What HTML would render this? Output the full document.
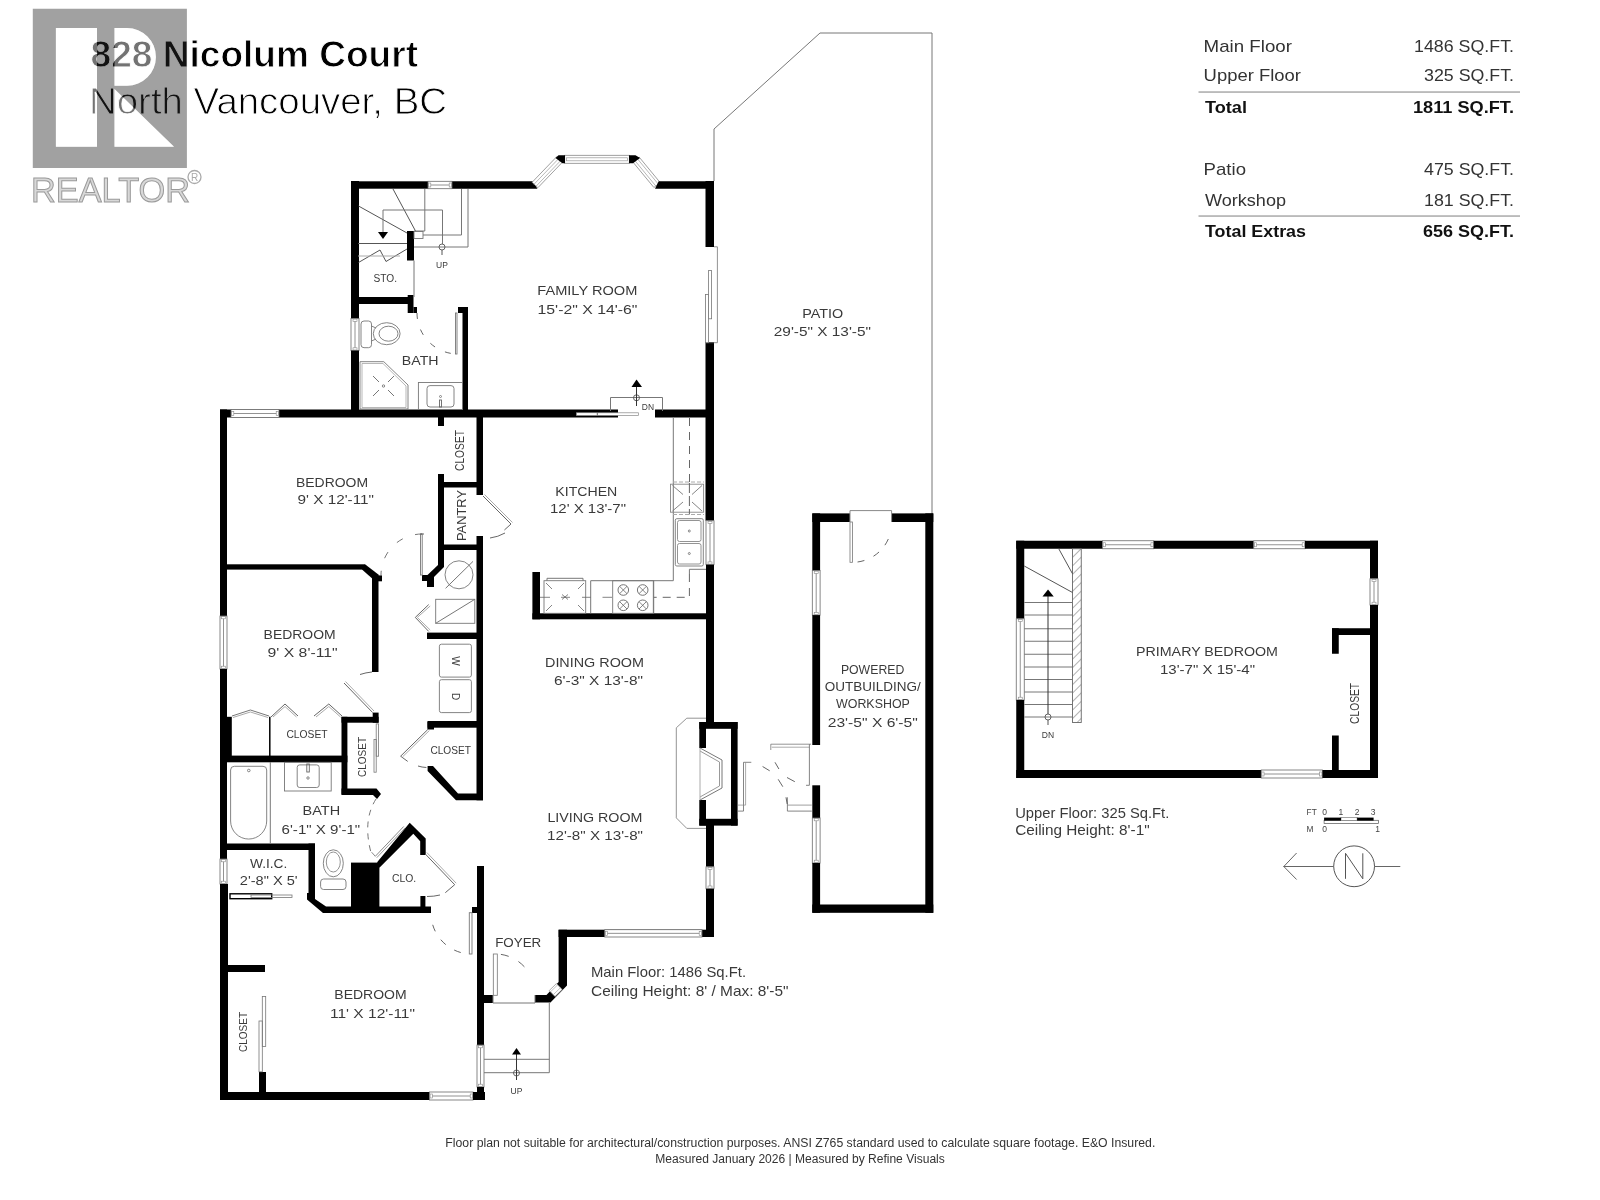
<!DOCTYPE html>
<html><head><meta charset="utf-8"><title>828 Nicolum Court Floor Plan</title>
<style>
html,body{margin:0;padding:0;background:#fff;}
body{width:1600px;height:1200px;overflow:hidden;position:relative;}
svg{position:absolute;left:0;top:0;will-change:transform;}
text{font-family:"Liberation Sans",sans-serif;}
</style></head><body>
<svg width="1600" height="1200" viewBox="0 0 1600 1200">
<rect width="1600" height="1200" fill="#fff"/>
<polyline points="714,181 714,129 820,33 932,33 932,514" fill="none" stroke="#777" stroke-width="1"/>
<rect x="351" y="181.3" width="77" height="7.4" fill="#000"/>
<polygon points="452,181.3 532.7,181.3 537.5,188.7 452,188.7" fill="#000"/>
<rect x="428" y="181.3" width="24" height="7.4" fill="#fff" stroke="#6a6a6a" stroke-width="0.8"/>
<line x1="430.8" y1="185.0" x2="449.2" y2="185.0" stroke="#777" stroke-width="0.8"/>
<rect x="428.6" y="183.0" width="2.2" height="4" fill="none" stroke="#888" stroke-width="0.6"/>
<rect x="449.2" y="183.0" width="2.2" height="4" fill="none" stroke="#888" stroke-width="0.6"/>
<rect x="564.7" y="155.3" width="64.6" height="8" fill="#fff" stroke="#888" stroke-width="0.8"/>
<rect x="566.5" y="157.8" width="61" height="3" fill="none" stroke="#999" stroke-width="0.7"/>
<polygon points="532.1,182.3 556.6,156.8 562.4,162.2 537.9,187.7" fill="#fff" stroke="#888" stroke-width="0.8"/>
<polyline points="534,184.3 558,159.3" fill="none" stroke="#999" stroke-width="0.7"/>
<polyline points="536.3,186 560.3,161" fill="none" stroke="#999" stroke-width="0.7"/>
<polygon points="639.1,157 660.1,182.5 653.9,187.5 632.9,162" fill="#fff" stroke="#888" stroke-width="0.8"/>
<polyline points="637.2,158.5 658.2,184" fill="none" stroke="#999" stroke-width="0.7"/>
<polyline points="634.8,160.5 655.8,186" fill="none" stroke="#999" stroke-width="0.7"/>
<polygon points="555.5,158 558.5,155.3 565,155.3 565,163.3 562.4,163.3" fill="#000"/>
<polygon points="629,155.3 635.5,155.3 640,158 633,163.3 629,163.3" fill="#000"/>
<polygon points="658.7,181.3 714,181.3 714,188.7 655,188.7" fill="#000"/>
<rect x="351" y="181" width="8" height="137.5" fill="#000"/>
<rect x="351" y="318.5" width="8" height="32.1" fill="#fff" stroke="#6a6a6a" stroke-width="0.8"/>
<line x1="355.0" y1="321.3" x2="355.0" y2="347.8" stroke="#777" stroke-width="0.8"/>
<rect x="353.0" y="319.1" width="4" height="2.2" fill="none" stroke="#888" stroke-width="0.6"/>
<rect x="353.0" y="347.8" width="4" height="2.2" fill="none" stroke="#888" stroke-width="0.6"/>
<rect x="351" y="350.6" width="8" height="66.4" fill="#000"/>
<rect x="705.5" y="181" width="8.5" height="66" fill="#000"/>
<rect x="705.5" y="342" width="8.5" height="75" fill="#000"/>
<polyline points="714,246.8 717.4,246.8 717.4,342.7 705.5,342.7" fill="none" stroke="#777" stroke-width="0.8"/>
<rect x="708.4" y="270.6" width="3.2" height="48.2" fill="#fff" stroke="#777" stroke-width="0.8"/>
<rect x="705.5" y="294.5" width="2.9" height="48.2" fill="#fff" stroke="#777" stroke-width="0.8"/>
<rect x="351" y="297" width="57" height="7" fill="#000"/>
<rect x="407.7" y="295" width="5.8" height="18" fill="#000"/>
<rect x="413.5" y="307" width="3.5" height="6" fill="#000"/>
<rect x="407" y="231" width="7" height="29.5" fill="#000"/>
<rect x="462.5" y="307" width="5.5" height="110" fill="#000"/>
<rect x="458" y="307" width="10" height="6" fill="#000"/>
<rect x="220" y="409.5" width="398" height="8.0" fill="#000"/>
<rect x="576.5" y="412.8" width="20.5" height="2.6" fill="#fff" stroke="#999" stroke-width="0.6"/>
<rect x="597.5" y="412.8" width="41" height="2.6" fill="#fff" stroke="#888" stroke-width="0.7"/>
<rect x="655" y="409.5" width="59" height="8.0" fill="#000"/>
<rect x="231" y="409.5" width="48" height="8.0" fill="#fff" stroke="#6a6a6a" stroke-width="0.8"/>
<line x1="233.8" y1="413.5" x2="276.2" y2="413.5" stroke="#777" stroke-width="0.8"/>
<rect x="231.6" y="411.5" width="2.2" height="4" fill="none" stroke="#888" stroke-width="0.6"/>
<rect x="276.2" y="411.5" width="2.2" height="4" fill="none" stroke="#888" stroke-width="0.6"/>
<rect x="220" y="409.5" width="7" height="206.5" fill="#000"/>
<rect x="220" y="616" width="7" height="53" fill="#fff" stroke="#6a6a6a" stroke-width="0.8"/>
<line x1="223.5" y1="618.8" x2="223.5" y2="666.2" stroke="#777" stroke-width="0.8"/>
<rect x="221.5" y="616.6" width="4" height="2.2" fill="none" stroke="#888" stroke-width="0.6"/>
<rect x="221.5" y="666.2" width="4" height="2.2" fill="none" stroke="#888" stroke-width="0.6"/>
<rect x="220" y="669" width="7" height="190" fill="#000"/>
<rect x="220" y="859" width="7" height="25" fill="#fff" stroke="#6a6a6a" stroke-width="0.8"/>
<line x1="223.5" y1="861.8" x2="223.5" y2="881.2" stroke="#777" stroke-width="0.8"/>
<rect x="221.5" y="859.6" width="4" height="2.2" fill="none" stroke="#888" stroke-width="0.6"/>
<rect x="221.5" y="881.2" width="4" height="2.2" fill="none" stroke="#888" stroke-width="0.6"/>
<rect x="220" y="884" width="8" height="216" fill="#000"/>
<rect x="220" y="1092" width="209.5" height="8" fill="#000"/>
<rect x="429.5" y="1092" width="43.5" height="8" fill="#fff" stroke="#6a6a6a" stroke-width="0.8"/>
<line x1="432.3" y1="1096.0" x2="470.2" y2="1096.0" stroke="#777" stroke-width="0.8"/>
<rect x="430.1" y="1094.0" width="2.2" height="4" fill="none" stroke="#888" stroke-width="0.6"/>
<rect x="470.2" y="1094.0" width="2.2" height="4" fill="none" stroke="#888" stroke-width="0.6"/>
<rect x="473" y="1092" width="12" height="8" fill="#000"/>
<rect x="438" y="417" width="6" height="9" fill="#000"/>
<rect x="438" y="474" width="6" height="91" fill="#000"/>
<polygon points="438,565 444,565 444,567 433,578 427.5,575" fill="#000"/>
<rect x="422" y="575" width="12" height="6" fill="#000"/>
<rect x="427" y="581" width="7" height="6" fill="#000"/>
<rect x="444" y="482" width="33" height="5.5" fill="#000"/>
<rect x="444" y="544.5" width="33" height="5.5" fill="#000"/>
<rect x="476.5" y="417" width="6.5" height="78" fill="#000"/>
<rect x="476.5" y="536" width="6.5" height="264.3" fill="#000"/>
<rect x="220" y="564.3" width="145" height="5.3" fill="#000"/>
<polygon points="365,564.3 379,575 375,581 362,569.6" fill="#000"/>
<rect x="372" y="575.4" width="10" height="5.9" fill="#000"/>
<rect x="372" y="576" width="6.5" height="96" fill="#000"/>
<rect x="341.5" y="716.8" width="37.1" height="5.9" fill="#000"/>
<rect x="372.7" y="712.6" width="5.9" height="10.1" fill="#000"/>
<rect x="226.7" y="716.8" width="5.1" height="39.6" fill="#000"/>
<rect x="220" y="755.6" width="127.4" height="6.7" fill="#000"/>
<rect x="341.5" y="716.8" width="5.9" height="77.6" fill="#000"/>
<polygon points="341.5,788.5 376.5,788.5 381,794 377,799 373,795 341.5,795" fill="#000"/>
<rect x="427" y="632.6" width="50" height="6.4" fill="#000"/>
<rect x="427.6" y="721" width="55.4" height="6.7" fill="#000"/>
<polygon points="427.6,766 433,766 458,793.6 483,793.6 483,800.3 456,800.3 427.6,771" fill="#000"/>
<rect x="220" y="843.5" width="95" height="6.5" fill="#000"/>
<rect x="308.5" y="843.5" width="6.5" height="52.5" fill="#000"/>
<polygon points="307,893 315,893 315,899 326,906.5 431,906.5 431,913 323,913 307,899.4" fill="#000"/>
<rect x="351" y="862.6" width="28.4" height="50.4" fill="#000"/>
<polygon points="377.1,862.2 409.7,822.8 425.7,838.4 425.7,854.9 420.2,854.9 420.2,841.2 413.3,833.8 379.4,867.7" fill="#000"/>
<rect x="420.4" y="896" width="5.0" height="17" fill="#000"/>
<rect x="220" y="965" width="45" height="7" fill="#000"/>
<rect x="259" y="1072" width="7" height="20" fill="#000"/>
<rect x="477" y="866" width="7" height="179" fill="#000"/>
<rect x="477" y="1045" width="7" height="42" fill="#fff" stroke="#6a6a6a" stroke-width="0.8"/>
<line x1="480.5" y1="1047.8" x2="480.5" y2="1084.2" stroke="#777" stroke-width="0.8"/>
<rect x="478.5" y="1045.6" width="4" height="2.2" fill="none" stroke="#888" stroke-width="0.6"/>
<rect x="478.5" y="1084.2" width="4" height="2.2" fill="none" stroke="#888" stroke-width="0.6"/>
<rect x="477" y="1087" width="7" height="13" fill="#000"/>
<rect x="472" y="907" width="5" height="6" fill="#000"/>
<rect x="484" y="995" width="9" height="8" fill="#000"/>
<polygon points="558.6,929.7 567,929.7 567,985.4 550.5,1002.5 535,1002.5 535,995 546.5,995 558.6,982" fill="#000"/>
<polygon points="549.2,990.6 556.4,983.6 562.2,989.6 555,996.6" fill="#fff" stroke="#888" stroke-width="0.7"/>
<polyline points="551,991.3 557.5,985" fill="none" stroke="#999" stroke-width="0.6"/>
<polyline points="553.8,994.2 560.3,987.9" fill="none" stroke="#999" stroke-width="0.6"/>
<rect x="558.6" y="929.7" width="155.4" height="7.3" fill="#000"/>
<rect x="604.7" y="929.7" width="97.3" height="7.3" fill="#fff" stroke="#6a6a6a" stroke-width="0.8"/>
<line x1="607.5" y1="933.35" x2="699.2" y2="933.35" stroke="#777" stroke-width="0.8"/>
<rect x="605.3000000000001" y="931.35" width="2.2" height="4" fill="none" stroke="#888" stroke-width="0.6"/>
<rect x="699.2" y="931.35" width="2.2" height="4" fill="none" stroke="#888" stroke-width="0.6"/>
<rect x="532.4" y="572" width="7.6" height="47.3" fill="#000"/>
<rect x="532.4" y="613.3" width="181.6" height="6.0" fill="#000"/>
<rect x="705.5" y="417" width="8.5" height="103.7" fill="#000"/>
<rect x="706" y="520.7" width="8" height="44.0" fill="#fff" stroke="#6a6a6a" stroke-width="0.8"/>
<line x1="710.0" y1="523.5" x2="710.0" y2="561.9000000000001" stroke="#777" stroke-width="0.8"/>
<rect x="708.0" y="521.3000000000001" width="4" height="2.2" fill="none" stroke="#888" stroke-width="0.6"/>
<rect x="708.0" y="561.9000000000001" width="4" height="2.2" fill="none" stroke="#888" stroke-width="0.6"/>
<rect x="706" y="564.7" width="8" height="157.3" fill="#000"/>
<rect x="706" y="825" width="8" height="41.8" fill="#000"/>
<rect x="706" y="866.8" width="8" height="22.0" fill="#fff" stroke="#6a6a6a" stroke-width="0.8"/>
<line x1="710.0" y1="869.5999999999999" x2="710.0" y2="886.0" stroke="#777" stroke-width="0.8"/>
<rect x="708.0" y="867.4" width="4" height="2.2" fill="none" stroke="#888" stroke-width="0.6"/>
<rect x="708.0" y="886.0" width="4" height="2.2" fill="none" stroke="#888" stroke-width="0.6"/>
<rect x="706" y="888.8" width="8" height="48.2" fill="#000"/>
<rect x="699.3" y="722" width="38.3" height="6.8" fill="#000"/>
<rect x="699.3" y="818.8" width="38.3" height="6.8" fill="#000"/>
<rect x="731" y="722" width="6.6" height="103.6" fill="#000"/>
<rect x="699.3" y="722" width="6.7" height="26" fill="#000"/>
<rect x="699.3" y="800" width="6.7" height="25.6" fill="#000"/>
<rect x="812.3" y="513.4" width="37.7" height="8.6" fill="#000"/>
<rect x="891.6" y="513.4" width="41.7" height="8.6" fill="#000"/>
<rect x="925.3" y="513.4" width="8.0" height="399.4" fill="#000"/>
<rect x="812.3" y="904.5" width="121.0" height="8.3" fill="#000"/>
<rect x="812.3" y="513.4" width="7.8" height="57.2" fill="#000"/>
<rect x="812.3" y="570.6" width="7.8" height="44.5" fill="#fff" stroke="#6a6a6a" stroke-width="0.8"/>
<line x1="816.2" y1="573.4" x2="816.2" y2="612.3000000000001" stroke="#777" stroke-width="0.8"/>
<rect x="814.2" y="571.2" width="4" height="2.2" fill="none" stroke="#888" stroke-width="0.6"/>
<rect x="814.2" y="612.3000000000001" width="4" height="2.2" fill="none" stroke="#888" stroke-width="0.6"/>
<rect x="812.3" y="615.1" width="7.8" height="129.9" fill="#000"/>
<rect x="812.3" y="785.3" width="7.8" height="32.7" fill="#000"/>
<rect x="812.3" y="818" width="7.8" height="45" fill="#fff" stroke="#6a6a6a" stroke-width="0.8"/>
<line x1="816.2" y1="820.8" x2="816.2" y2="860.2" stroke="#777" stroke-width="0.8"/>
<rect x="814.2" y="818.6" width="4" height="2.2" fill="none" stroke="#888" stroke-width="0.6"/>
<rect x="814.2" y="860.2" width="4" height="2.2" fill="none" stroke="#888" stroke-width="0.6"/>
<rect x="812.3" y="863" width="7.8" height="49.8" fill="#000"/>
<rect x="1016.25" y="540.75" width="86.25" height="8.0" fill="#000"/>
<rect x="1102.5" y="540.75" width="51.25" height="8.0" fill="#fff" stroke="#6a6a6a" stroke-width="0.8"/>
<line x1="1105.3" y1="544.75" x2="1150.95" y2="544.75" stroke="#777" stroke-width="0.8"/>
<rect x="1103.1" y="542.75" width="2.2" height="4" fill="none" stroke="#888" stroke-width="0.6"/>
<rect x="1150.95" y="542.75" width="2.2" height="4" fill="none" stroke="#888" stroke-width="0.6"/>
<rect x="1153.75" y="540.75" width="100.0" height="8.0" fill="#000"/>
<rect x="1253.75" y="540.75" width="51.25" height="8.0" fill="#fff" stroke="#6a6a6a" stroke-width="0.8"/>
<line x1="1256.55" y1="544.75" x2="1302.2" y2="544.75" stroke="#777" stroke-width="0.8"/>
<rect x="1254.35" y="542.75" width="2.2" height="4" fill="none" stroke="#888" stroke-width="0.6"/>
<rect x="1302.2" y="542.75" width="2.2" height="4" fill="none" stroke="#888" stroke-width="0.6"/>
<rect x="1305" y="540.75" width="73" height="8.0" fill="#000"/>
<rect x="1016.25" y="540.75" width="8.0" height="78.0" fill="#000"/>
<rect x="1016.25" y="618.75" width="8.0" height="81.25" fill="#fff" stroke="#6a6a6a" stroke-width="0.8"/>
<line x1="1020.25" y1="621.55" x2="1020.25" y2="697.2" stroke="#777" stroke-width="0.8"/>
<rect x="1018.25" y="619.35" width="4" height="2.2" fill="none" stroke="#888" stroke-width="0.6"/>
<rect x="1018.25" y="697.2" width="4" height="2.2" fill="none" stroke="#888" stroke-width="0.6"/>
<rect x="1016.25" y="700" width="8.0" height="78" fill="#000"/>
<rect x="1016.25" y="770" width="245.0" height="8" fill="#000"/>
<rect x="1261.25" y="770" width="61.25" height="8" fill="#fff" stroke="#6a6a6a" stroke-width="0.8"/>
<line x1="1264.05" y1="774.0" x2="1319.7" y2="774.0" stroke="#777" stroke-width="0.8"/>
<rect x="1261.85" y="772.0" width="2.2" height="4" fill="none" stroke="#888" stroke-width="0.6"/>
<rect x="1319.7" y="772.0" width="2.2" height="4" fill="none" stroke="#888" stroke-width="0.6"/>
<rect x="1322.5" y="770" width="55.5" height="8" fill="#000"/>
<rect x="1370" y="540.75" width="8" height="38.0" fill="#000"/>
<rect x="1370" y="578.75" width="8" height="26.25" fill="#fff" stroke="#6a6a6a" stroke-width="0.8"/>
<line x1="1374.0" y1="581.55" x2="1374.0" y2="602.2" stroke="#777" stroke-width="0.8"/>
<rect x="1372.0" y="579.35" width="4" height="2.2" fill="none" stroke="#888" stroke-width="0.6"/>
<rect x="1372.0" y="602.2" width="4" height="2.2" fill="none" stroke="#888" stroke-width="0.6"/>
<rect x="1370" y="605" width="8" height="173" fill="#000"/>
<rect x="1332" y="628.25" width="38" height="6.75" fill="#000"/>
<rect x="1332" y="628.25" width="6.75" height="25.5" fill="#000"/>
<rect x="1332" y="735.5" width="6.75" height="34.5" fill="#000"/>
<text x="537.3" y="295.3" font-size="13" text-anchor="start" fill="#3a3a3a" font-weight="normal" textLength="100.0" lengthAdjust="spacingAndGlyphs">FAMILY ROOM</text>
<text x="537.5" y="313.7" font-size="13" text-anchor="start" fill="#3a3a3a" font-weight="normal" textLength="100.0" lengthAdjust="spacingAndGlyphs">15'-2&quot; X 14'-6&quot;</text>
<text x="373.5" y="282" font-size="10" text-anchor="start" fill="#3a3a3a" font-weight="normal" textLength="23.5" lengthAdjust="spacingAndGlyphs">STO.</text>
<text x="442" y="267.5" font-size="8.5" text-anchor="middle" fill="#3a3a3a" font-weight="normal">UP</text>
<text x="401.8" y="364.6" font-size="12.5" text-anchor="start" fill="#3a3a3a" font-weight="normal" textLength="36.8" lengthAdjust="spacingAndGlyphs">BATH</text>
<text x="641.8" y="409.5" font-size="8.5" text-anchor="start" fill="#3a3a3a" font-weight="normal" textLength="12.2" lengthAdjust="spacingAndGlyphs">DN</text>
<text x="802.3" y="317.6" font-size="13" text-anchor="start" fill="#3a3a3a" font-weight="normal" textLength="41.0" lengthAdjust="spacingAndGlyphs">PATIO</text>
<text x="773.8" y="335.5" font-size="13" text-anchor="start" fill="#3a3a3a" font-weight="normal" textLength="97.2" lengthAdjust="spacingAndGlyphs">29'-5&quot; X 13'-5&quot;</text>
<text x="296" y="487" font-size="13.5" text-anchor="start" fill="#3a3a3a" font-weight="normal" textLength="72" lengthAdjust="spacingAndGlyphs">BEDROOM</text>
<text x="297.6" y="504.4" font-size="13.5" text-anchor="start" fill="#3a3a3a" font-weight="normal" textLength="76.4" lengthAdjust="spacingAndGlyphs">9' X 12'-11&quot;</text>
<text x="464" y="450.5" font-size="12" text-anchor="middle" fill="#3a3a3a" font-weight="normal" textLength="41" lengthAdjust="spacingAndGlyphs" transform="rotate(-90 464 450.5)">CLOSET</text>
<text x="466" y="515.5" font-size="12.5" text-anchor="middle" fill="#3a3a3a" font-weight="normal" textLength="51" lengthAdjust="spacingAndGlyphs" transform="rotate(-90 466 515.5)">PANTRY</text>
<text x="555.3" y="496" font-size="13.5" text-anchor="start" fill="#3a3a3a" font-weight="normal" textLength="62.0" lengthAdjust="spacingAndGlyphs">KITCHEN</text>
<text x="550" y="513.3" font-size="13.5" text-anchor="start" fill="#3a3a3a" font-weight="normal" textLength="76" lengthAdjust="spacingAndGlyphs">12' X 13'-7&quot;</text>
<text x="263.6" y="639.4" font-size="13.5" text-anchor="start" fill="#3a3a3a" font-weight="normal" textLength="72.0" lengthAdjust="spacingAndGlyphs">BEDROOM</text>
<text x="267.6" y="657.4" font-size="13.5" text-anchor="start" fill="#3a3a3a" font-weight="normal" textLength="70.0" lengthAdjust="spacingAndGlyphs">9' X 8'-11&quot;</text>
<text x="286.4" y="738" font-size="11" text-anchor="start" fill="#3a3a3a" font-weight="normal" textLength="41.2" lengthAdjust="spacingAndGlyphs">CLOSET</text>
<text x="366" y="757" font-size="11.5" text-anchor="middle" fill="#3a3a3a" font-weight="normal" textLength="40" lengthAdjust="spacingAndGlyphs" transform="rotate(-90 366 757)">CLOSET</text>
<text x="430.4" y="754.4" font-size="11" text-anchor="start" fill="#3a3a3a" font-weight="normal" textLength="40.6" lengthAdjust="spacingAndGlyphs">CLOSET</text>
<text x="545" y="667.4" font-size="13.5" text-anchor="start" fill="#3a3a3a" font-weight="normal" textLength="99" lengthAdjust="spacingAndGlyphs">DINING ROOM</text>
<text x="554" y="685" font-size="13.5" text-anchor="start" fill="#3a3a3a" font-weight="normal" textLength="89" lengthAdjust="spacingAndGlyphs">6'-3&quot; X 13'-8&quot;</text>
<text x="547.4" y="822.4" font-size="13.5" text-anchor="start" fill="#3a3a3a" font-weight="normal" textLength="95.0" lengthAdjust="spacingAndGlyphs">LIVING ROOM</text>
<text x="547" y="840" font-size="13.5" text-anchor="start" fill="#3a3a3a" font-weight="normal" textLength="96" lengthAdjust="spacingAndGlyphs">12'-8&quot; X 13'-8&quot;</text>
<text x="302.6" y="815.4" font-size="13" text-anchor="start" fill="#3a3a3a" font-weight="normal" textLength="37.5" lengthAdjust="spacingAndGlyphs">BATH</text>
<text x="281.6" y="833.6" font-size="13" text-anchor="start" fill="#3a3a3a" font-weight="normal" textLength="78.6" lengthAdjust="spacingAndGlyphs">6'-1&quot; X 9'-1&quot;</text>
<text x="250" y="867.6" font-size="13" text-anchor="start" fill="#3a3a3a" font-weight="normal" textLength="37.3" lengthAdjust="spacingAndGlyphs">W.I.C.</text>
<text x="239.8" y="885.3" font-size="13" text-anchor="start" fill="#3a3a3a" font-weight="normal" textLength="57.8" lengthAdjust="spacingAndGlyphs">2'-8&quot; X 5'</text>
<text x="392" y="882.4" font-size="10" text-anchor="start" fill="#3a3a3a" font-weight="normal" textLength="24.2" lengthAdjust="spacingAndGlyphs">CLO.</text>
<text x="334.3" y="999.3" font-size="13.5" text-anchor="start" fill="#3a3a3a" font-weight="normal" textLength="72.3" lengthAdjust="spacingAndGlyphs">BEDROOM</text>
<text x="330" y="1017.8" font-size="13.5" text-anchor="start" fill="#3a3a3a" font-weight="normal" textLength="85" lengthAdjust="spacingAndGlyphs">11' X 12'-11&quot;</text>
<text x="247" y="1032" font-size="11.5" text-anchor="middle" fill="#3a3a3a" font-weight="normal" textLength="40" lengthAdjust="spacingAndGlyphs" transform="rotate(-90 247 1032)">CLOSET</text>
<text x="495.2" y="946.8" font-size="13" text-anchor="start" fill="#3a3a3a" font-weight="normal" textLength="46.1" lengthAdjust="spacingAndGlyphs">FOYER</text>
<text x="516.5" y="1094" font-size="8.5" text-anchor="middle" fill="#3a3a3a" font-weight="normal">UP</text>
<text x="840.9" y="674.1" font-size="13" text-anchor="start" fill="#3a3a3a" font-weight="normal" textLength="63.4" lengthAdjust="spacingAndGlyphs">POWERED</text>
<text x="824.75" y="691.4" font-size="13" text-anchor="start" fill="#3a3a3a" font-weight="normal" textLength="96.0" lengthAdjust="spacingAndGlyphs">OUTBUILDING/</text>
<text x="836" y="707.5" font-size="13" text-anchor="start" fill="#3a3a3a" font-weight="normal" textLength="73.9" lengthAdjust="spacingAndGlyphs">WORKSHOP</text>
<text x="827.75" y="727.4" font-size="13" text-anchor="start" fill="#3a3a3a" font-weight="normal" textLength="90.0" lengthAdjust="spacingAndGlyphs">23'-5&quot; X 6'-5&quot;</text>
<text x="1136" y="655.5" font-size="13.7" text-anchor="start" fill="#3a3a3a" font-weight="normal" textLength="142" lengthAdjust="spacingAndGlyphs">PRIMARY BEDROOM</text>
<text x="1160" y="673.75" font-size="13.7" text-anchor="start" fill="#3a3a3a" font-weight="normal" textLength="95" lengthAdjust="spacingAndGlyphs">13'-7&quot; X 15'-4&quot;</text>
<text x="1359.5" y="703.4" font-size="12" text-anchor="middle" fill="#3a3a3a" font-weight="normal" textLength="41" lengthAdjust="spacingAndGlyphs" transform="rotate(-90 1359.5 703.4)">CLOSET</text>
<text x="1048" y="737.5" font-size="8.5" text-anchor="middle" fill="#3a3a3a" font-weight="normal">DN</text>
<text x="591" y="976.8" font-size="14.5" text-anchor="start" fill="#3a3a3a" font-weight="normal" textLength="155" lengthAdjust="spacingAndGlyphs">Main Floor: 1486 Sq.Ft.</text>
<text x="591" y="996" font-size="14.5" text-anchor="start" fill="#3a3a3a" font-weight="normal" textLength="197.5" lengthAdjust="spacingAndGlyphs">Ceiling Height: 8' / Max: 8'-5&quot;</text>
<text x="1015.2" y="817.6" font-size="14.5" text-anchor="start" fill="#3a3a3a" font-weight="normal" textLength="154.1" lengthAdjust="spacingAndGlyphs">Upper Floor: 325 Sq.Ft.</text>
<text x="1015.2" y="835" font-size="14.5" text-anchor="start" fill="#3a3a3a" font-weight="normal" textLength="134.4" lengthAdjust="spacingAndGlyphs">Ceiling Height: 8'-1&quot;</text>
<text x="445.3" y="1146.6" font-size="12" text-anchor="start" fill="#333" font-weight="normal" textLength="710.0" lengthAdjust="spacingAndGlyphs">Floor plan not suitable for architectural/construction purposes. ANSI Z765 standard used to calculate square footage. E&amp;O Insured.</text>
<text x="655.3" y="1162.8" font-size="12" text-anchor="start" fill="#333" font-weight="normal" textLength="289.5" lengthAdjust="spacingAndGlyphs">Measured January 2026 | Measured by Refine Visuals</text>
<text x="1203.6" y="51.5" font-size="17" text-anchor="start" fill="#333" font-weight="normal" textLength="88.4" lengthAdjust="spacingAndGlyphs">Main Floor</text>
<text x="1514" y="51.5" font-size="17" text-anchor="end" fill="#333" font-weight="normal" textLength="100" lengthAdjust="spacingAndGlyphs">1486 SQ.FT.</text>
<text x="1203.6" y="81" font-size="17" text-anchor="start" fill="#333" font-weight="normal" textLength="97.4" lengthAdjust="spacingAndGlyphs">Upper Floor</text>
<text x="1514" y="81" font-size="17" text-anchor="end" fill="#333" font-weight="normal" textLength="90" lengthAdjust="spacingAndGlyphs">325 SQ.FT.</text>
<rect x="1198.5" y="91.3" width="321.5" height="1.5" fill="#aaa"/>
<text x="1205" y="112.7" font-size="17" text-anchor="start" fill="#111" font-weight="bold" textLength="42" lengthAdjust="spacingAndGlyphs">Total</text>
<text x="1514" y="112.7" font-size="17" text-anchor="end" fill="#111" font-weight="bold" textLength="101" lengthAdjust="spacingAndGlyphs">1811 SQ.FT.</text>
<text x="1203.6" y="175" font-size="17" text-anchor="start" fill="#333" font-weight="normal" textLength="42.4" lengthAdjust="spacingAndGlyphs">Patio</text>
<text x="1514" y="175" font-size="17" text-anchor="end" fill="#333" font-weight="normal" textLength="90" lengthAdjust="spacingAndGlyphs">475 SQ.FT.</text>
<text x="1205" y="206" font-size="17" text-anchor="start" fill="#333" font-weight="normal" textLength="81" lengthAdjust="spacingAndGlyphs">Workshop</text>
<text x="1514" y="206" font-size="17" text-anchor="end" fill="#333" font-weight="normal" textLength="90" lengthAdjust="spacingAndGlyphs">181 SQ.FT.</text>
<rect x="1198.5" y="215.3" width="321.5" height="1.5" fill="#aaa"/>
<text x="1205" y="237" font-size="17" text-anchor="start" fill="#111" font-weight="bold" textLength="101" lengthAdjust="spacingAndGlyphs">Total Extras</text>
<text x="1514" y="237" font-size="17" text-anchor="end" fill="#111" font-weight="bold" textLength="91" lengthAdjust="spacingAndGlyphs">656 SQ.FT.</text>
<text x="90.6" y="67.2" font-size="37" text-anchor="start" fill="#000" font-weight="bold" textLength="327.4" lengthAdjust="spacingAndGlyphs" stroke="#fff" stroke-width="0.9">828 Nicolum Court</text>
<text x="89" y="114" font-size="36.5" text-anchor="start" fill="#000" font-weight="normal" textLength="358" lengthAdjust="spacingAndGlyphs" stroke="#fff" stroke-width="0.9">North Vancouver, BC</text>
<circle cx="1354.1" cy="866.3" r="20.4" fill="none" stroke="#555" stroke-width="1"/>
<polyline points="1283.5,866.5 1333.7,866.5" fill="none" stroke="#666" stroke-width="1"/>
<polyline points="1374.5,866.5 1400.3,866.5" fill="none" stroke="#666" stroke-width="1"/>
<polyline points="1296.6,853 1283.8,866.5 1296.6,879.5" fill="none" stroke="#666" stroke-width="1"/>
<polyline points="1345.5,878.8 1345.5,853.3 1362.8,878.8 1362.8,853.3" fill="none" stroke="#555" stroke-width="1"/>
<text x="1306.6" y="814.8" font-size="8.3" text-anchor="start" fill="#444" font-weight="normal">FT</text>
<text x="1306.6" y="831.5" font-size="8.3" text-anchor="start" fill="#444" font-weight="normal">M</text>
<text x="1324.5" y="814.8" font-size="8.5" text-anchor="middle" fill="#444" font-weight="normal">0</text>
<text x="1340.8" y="814.8" font-size="8.5" text-anchor="middle" fill="#444" font-weight="normal">1</text>
<text x="1357" y="814.8" font-size="8.5" text-anchor="middle" fill="#444" font-weight="normal">2</text>
<text x="1373.2" y="814.8" font-size="8.5" text-anchor="middle" fill="#444" font-weight="normal">3</text>
<text x="1324.5" y="831.5" font-size="8.5" text-anchor="middle" fill="#444" font-weight="normal">0</text>
<text x="1377.6" y="831.5" font-size="8.5" text-anchor="middle" fill="#444" font-weight="normal">1</text>
<rect x="1324.1" y="820.3" width="54.4" height="3.3" fill="#fff" stroke="#555" stroke-width="0.7"/>
<rect x="1341" y="817.6" width="16.1" height="3" fill="#fff" stroke="#666" stroke-width="0.6"/>
<rect x="1324.1" y="817.6" width="16.9" height="3.0" fill="#000"/>
<rect x="1357.1" y="817.6" width="16.5" height="3.0" fill="#000"/>
<path d="M32.8,8.75 H186.9 V168 H32.8 Z M55.9,28 H97 V146.7 H55.9 Z M114.5,28 H127 A28.9,28.9 0 0 1 127,85.8 H114.5 Z M114.5,89 L174,146.7 H114.5 Z" fill="rgb(40,40,40)" fill-opacity="0.44" fill-rule="evenodd"/>
<path d="M55.9,28 H97 V146.7 H55.9 Z M114.5,28 H127 A28.9,28.9 0 0 1 127,85.8 H114.5 Z M114.5,89 L174,146.7 H114.5 Z" fill="#fff" fill-opacity="0.45"/>
<text x="31" y="202.2" font-size="34.5" fill="#d8d8d8" stroke="#9a9a9a" stroke-width="1" textLength="159" lengthAdjust="spacingAndGlyphs">REALTOR</text>
<circle cx="194.5" cy="177" r="6.5" fill="none" stroke="#aaa" stroke-width="1.3"/>
<text x="194.5" y="180.8" font-size="10" text-anchor="middle" fill="#aaa">R</text>
<polyline points="393,189 415.5,231" fill="none" stroke="#555" stroke-width="1"/>
<polyline points="358.5,206 407,233" fill="none" stroke="#555" stroke-width="1"/>
<polyline points="383,236 383,210 442.5,210 442.5,244" fill="none" stroke="#777" stroke-width="1"/>
<polygon points="378,232 388,232 383,239" fill="#000"/>
<polyline points="424.8,189 424.8,231 414,231" fill="none" stroke="#777" stroke-width="1"/>
<rect x="414" y="231.5" width="9" height="7.0" rx="0" fill="none" stroke="#777" stroke-width="0.9"/>
<polyline points="423,235 461.5,235 461.5,189" fill="none" stroke="#777" stroke-width="1"/>
<polyline points="468,189 468,247 414,247" fill="none" stroke="#777" stroke-width="1"/>
<circle cx="442" cy="247" r="3" fill="none" stroke="#555" stroke-width="0.9"/>
<polyline points="442,250 442,255" fill="none" stroke="#555" stroke-width="1"/>
<polyline points="358,243.5 407,243.5" fill="none" stroke="#555" stroke-width="1"/>
<polyline points="358.5,262.5 380,250 386,261.5 407,249" fill="none" stroke="#555" stroke-width="1"/>
<polyline points="358,256 400,256" fill="none" stroke="#aaa" stroke-width="1"/>
<polyline points="414,260.5 414,297" fill="none" stroke="#777" stroke-width="1"/>
<rect x="361" y="321" width="10.5" height="26.7" rx="3" fill="none" stroke="#777" stroke-width="0.9"/>
<ellipse cx="386.7" cy="333.7" rx="13.4" ry="11" fill="none" stroke="#777" stroke-width="0.9"/>
<ellipse cx="388.5" cy="333.7" rx="9.5" ry="7.5" fill="none" stroke="#777" stroke-width="0.9"/>
<path d="M371.5,326 L376,328 M371.5,341 L376,339" fill="none" stroke="#777" stroke-width="0.9"/>
<polygon points="360,361.7 383.8,361.7 408,385 408,409 360,409" fill="none" stroke="#777" stroke-width="0.9"/>
<polygon points="362,363.5 383,363.5 406,386 406,407.5 362,407.5" fill="none" stroke="#999" stroke-width="0.7"/>
<circle cx="383.5" cy="386" r="1.2" fill="none" stroke="#777" stroke-width="0.9"/>
<path d="M373,376 L379,382 M388,390 L394,396 M394,376 L388,382 M379,390 L373,396" fill="none" stroke="#666" stroke-width="0.9"/>
<rect x="418.4" y="382.5" width="44.1" height="27.0" rx="0" fill="none" stroke="#777" stroke-width="0.9"/>
<rect x="427" y="385.6" width="27" height="21.4" rx="3" fill="none" stroke="#777" stroke-width="0.9"/>
<circle cx="440.5" cy="396.5" r="1" fill="none" stroke="#777" stroke-width="0.9"/>
<rect x="439.5" y="400" width="2.0" height="7" rx="0" fill="none" stroke="#666" stroke-width="0.9"/>
<rect x="455.5" y="313" width="1.5" height="41" rx="0" fill="none" stroke="#777" stroke-width="0.9"/>
<path d="M417,313 A41,41 0 0 0 457,354" fill="none" stroke="#555" stroke-width="0.9" stroke-dasharray="6,11"/>
<polyline points="610.5,411 610.5,397.5 662.5,397.5 662.5,411" fill="none" stroke="#777" stroke-width="1"/>
<circle cx="636.5" cy="397.8" r="3" fill="none" stroke="#555" stroke-width="0.9"/>
<polyline points="636.5,406 636.5,386" fill="none" stroke="#333" stroke-width="1"/>
<polygon points="631.5,387 636.5,379.5 642,387" fill="#000"/>
<polyline points="673.3,418 673.3,580.7 590.7,580.7 590.7,613.3" fill="none" stroke="#777" stroke-width="1"/>
<polyline points="689.5,418 689.5,483" fill="none" stroke="#666" stroke-width="1" stroke-dasharray="8,6"/>
<rect x="670.5" y="484.2" width="33.1" height="28.0" rx="0" fill="none" stroke="#888" stroke-width="0.9"/>
<polyline points="673,482 704,482" fill="none" stroke="#aaa" stroke-width="1" stroke-dasharray="4,2"/>
<polyline points="673,514.5 704,514.5" fill="none" stroke="#aaa" stroke-width="1" stroke-dasharray="4,2"/>
<polyline points="689.4,483 689.4,514.5" fill="none" stroke="#666" stroke-width="1" stroke-dasharray="10,3"/>
<path d="M672.5,485.5 L683,494.5 M702,485.5 L692,494.5 M672.5,511 L683,502 M702,511 L692,502" fill="none" stroke="#777" stroke-width="0.9"/>
<rect x="675.3" y="518.7" width="28.0" height="47.3" rx="1.5" fill="none" stroke="#777" stroke-width="0.9"/>
<rect x="677.5" y="520.5" width="23.5" height="21.0" rx="2" fill="none" stroke="#888" stroke-width="0.9"/>
<rect x="677.5" y="543.5" width="23.5" height="20.5" rx="2" fill="none" stroke="#888" stroke-width="0.9"/>
<circle cx="689.3" cy="531" r="1" fill="none" stroke="#777" stroke-width="0.9"/>
<circle cx="689.3" cy="553.5" r="1" fill="none" stroke="#777" stroke-width="0.9"/>
<polyline points="706,569.3 689.4,569.3 689.4,574" fill="none" stroke="#777" stroke-width="1"/>
<polyline points="689.4,574 689.4,597.3 653.3,597.3" fill="none" stroke="#666" stroke-width="1" stroke-dasharray="8,6"/>
<rect x="544" y="580.7" width="41.7" height="32.6" rx="0" fill="none" stroke="#777" stroke-width="0.9"/>
<polyline points="547,580.7 547,578.3 583,578.3 583,580.7" fill="none" stroke="#777" stroke-width="1"/>
<path d="M546,583 L552,589 M584,583 L578,589 M546,611 L552,605 M584,611 L578,605 M562,594.5 L568,599.5 M568,594.5 L562,599.5 M561,597.3 L570,597.3" fill="none" stroke="#666" stroke-width="0.8"/>
<polyline points="540,597.3 550,597.3" fill="none" stroke="#666" stroke-width="0.8"/>
<polyline points="582,597.3 590.7,597.3" fill="none" stroke="#666" stroke-width="0.8"/>
<polyline points="602.5,597.3 612,597.3" fill="none" stroke="#666" stroke-width="0.8"/>
<rect x="612.7" y="580.7" width="40.6" height="32.6" rx="0" fill="none" stroke="#777" stroke-width="0.9"/>
<circle cx="623.3" cy="590" r="5.3" fill="none" stroke="#666" stroke-width="0.9"/>
<path d="M619.5999999999999,586.3 L627.0,593.7 M627.0,586.3 L619.5999999999999,593.7" fill="none" stroke="#666" stroke-width="0.8"/>
<circle cx="642.7" cy="590" r="5.3" fill="none" stroke="#666" stroke-width="0.9"/>
<path d="M639.0,586.3 L646.4000000000001,593.7 M646.4000000000001,586.3 L639.0,593.7" fill="none" stroke="#666" stroke-width="0.8"/>
<circle cx="623.3" cy="605.3" r="5.3" fill="none" stroke="#666" stroke-width="0.9"/>
<path d="M619.5999999999999,601.5999999999999 L627.0,609.0 M627.0,601.5999999999999 L619.5999999999999,609.0" fill="none" stroke="#666" stroke-width="0.8"/>
<circle cx="642.7" cy="605.3" r="5.3" fill="none" stroke="#666" stroke-width="0.9"/>
<path d="M639.0,601.5999999999999 L646.4000000000001,609.0 M646.4000000000001,601.5999999999999 L639.0,609.0" fill="none" stroke="#666" stroke-width="0.8"/>
<polyline points="653.7,580.7 653.7,613.3" fill="none" stroke="#777" stroke-width="1"/>
<polyline points="483,496 511,524 504.4,530" fill="none" stroke="#666" stroke-width="1"/>
<polyline points="484.5,494.5 512.5,522.5" fill="none" stroke="#aaa" stroke-width="1"/>
<path d="M505,533 Q498,537 490,538" fill="none" stroke="#555" stroke-width="0.9"/>
<rect x="420.5" y="534" width="1.7" height="41" rx="0" fill="none" stroke="#777" stroke-width="0.9"/>
<polyline points="420.5,534 424,534" fill="none" stroke="#666" stroke-width="1"/>
<path d="M422,534 A41,41 0 0 0 381,575" fill="none" stroke="#666" stroke-width="0.9" stroke-dasharray="7,13"/>
<circle cx="459" cy="574.8" r="14" fill="none" stroke="#777" stroke-width="0.9"/>
<polyline points="445.6,588.3 473,561.4" fill="none" stroke="#777" stroke-width="1"/>
<rect x="435.7" y="599.3" width="39.1" height="24.0" rx="0" fill="none" stroke="#777" stroke-width="0.9"/>
<polyline points="435.7,623.3 474.8,599.3" fill="none" stroke="#777" stroke-width="1"/>
<polyline points="428.7,604.6 415.3,617.4 428.7,631.4" fill="none" stroke="#666" stroke-width="1"/>
<polyline points="430.2,606 417.3,617.4 430.2,630" fill="none" stroke="#aaa" stroke-width="1"/>
<rect x="439.4" y="644.2" width="32.0" height="32.9" rx="2" fill="none" stroke="#777" stroke-width="0.9"/>
<rect x="439.4" y="679.7" width="32.0" height="32.9" rx="2" fill="none" stroke="#777" stroke-width="0.9"/>
<text x="451.7" y="661" font-size="10" text-anchor="middle" fill="#444" font-weight="normal" transform="rotate(90 451.7 661)">W</text>
<text x="451.7" y="696.5" font-size="10" text-anchor="middle" fill="#444" font-weight="normal" transform="rotate(90 451.7 696.5)">D</text>
<polyline points="344,683 372.7,712.6" fill="none" stroke="#666" stroke-width="1"/>
<polyline points="345.5,681.5 374,711" fill="none" stroke="#aaa" stroke-width="1"/>
<path d="M372,672 Q366,672.5 360,674.5" fill="none" stroke="#555" stroke-width="0.9"/>
<polyline points="232,716 250.4,710 269,716" fill="none" stroke="#777" stroke-width="1"/>
<polyline points="233,717.5 250.4,712 268,717.5" fill="none" stroke="#aaa" stroke-width="1"/>
<polyline points="271,717 285,704 298,716" fill="none" stroke="#666" stroke-width="1"/>
<polyline points="273,717 285,706.5 296.5,717" fill="none" stroke="#aaa" stroke-width="1"/>
<polyline points="314,716 328.8,704 342,716" fill="none" stroke="#666" stroke-width="1"/>
<polyline points="316,717 328.8,706.5 340.5,717" fill="none" stroke="#aaa" stroke-width="1"/>
<polyline points="269.8,716.8 269.8,756" fill="none" stroke="#000" stroke-width="1.5"/>
<rect x="376.2" y="723.9" width="2.4" height="32.3" rx="0" fill="none" stroke="#777" stroke-width="0.8"/>
<rect x="374" y="739.4" width="2.2" height="32.8" rx="0" fill="none" stroke="#777" stroke-width="0.8"/>
<rect x="427.4" y="721.6" width="6.6" height="7.9" fill="#000"/>
<polyline points="427.8,729.5 400.6,756.2 407.7,761.4" fill="none" stroke="#666" stroke-width="1"/>
<polyline points="429.4,730.5 402.6,756.8" fill="none" stroke="#aaa" stroke-width="1"/>
<path d="M418,766 Q422,767.3 426.4,767.5" fill="none" stroke="#555" stroke-width="0.9"/>
<path d="M230.6,770 Q230.6,766.3 234.3,766.3 H263 Q266.7,766.3 266.7,770 V821 A18,18 0 0 1 230.6,821 Z" fill="none" stroke="#777" stroke-width="0.9"/>
<circle cx="248.8" cy="770.5" r="1.3" fill="none" stroke="#777" stroke-width="0.9"/>
<polyline points="270.3,762 270.3,843.5" fill="none" stroke="#777" stroke-width="1"/>
<rect x="284.5" y="762.3" width="46.7" height="28.7" rx="0" fill="none" stroke="#777" stroke-width="0.9"/>
<rect x="297.2" y="764.9" width="22.0" height="22.6" rx="2.5" fill="none" stroke="#777" stroke-width="0.9"/>
<rect x="306.8" y="764" width="2.5" height="8" rx="0" fill="none" stroke="#666" stroke-width="0.9"/>
<circle cx="308" cy="778" r="1.2" fill="none" stroke="#777" stroke-width="0.9"/>
<ellipse cx="333.3" cy="863.3" rx="10" ry="13.5" fill="none" stroke="#777" stroke-width="0.9"/>
<ellipse cx="333.3" cy="862" rx="7" ry="10" fill="none" stroke="#888" stroke-width="0.9"/>
<rect x="320.6" y="879" width="25.4" height="10.5" rx="3" fill="none" stroke="#777" stroke-width="0.9"/>
<path d="M376,799 Q362,821 371.6,854.8" fill="none" stroke="#666" stroke-width="0.9" stroke-dasharray="6,6"/>
<polyline points="371.6,852.2 375.3,856.3 403.7,826.5" fill="none" stroke="#888" stroke-width="1"/>
<polyline points="376.75,857.7 405.15,827.9" fill="none" stroke="#999" stroke-width="1"/>
<rect x="230" y="893.8" width="41.7" height="4.9" rx="0" fill="#fff" stroke="#000" stroke-width="1.4"/>
<rect x="251" y="895" width="41" height="2.5" rx="0" fill="none" stroke="#777" stroke-width="0.8"/>
<polyline points="425.3,854 454.7,884.7 445.3,892.7" fill="none" stroke="#666" stroke-width="1"/>
<polyline points="426.8,852.5 456.2,883.2" fill="none" stroke="#aaa" stroke-width="1"/>
<path d="M440,895 Q434,896.5 427,896.5" fill="none" stroke="#555" stroke-width="0.9"/>
<rect x="469.3" y="912.7" width="2.7" height="41.3" rx="0" fill="none" stroke="#777" stroke-width="0.9"/>
<path d="M431,913 A41,41 0 0 0 469,954" fill="none" stroke="#555" stroke-width="0.9" stroke-dasharray="0,12,7,10,7,10,7,100"/>
<rect x="262.3" y="996.4" width="3.4" height="50.2" rx="0" fill="none" stroke="#777" stroke-width="0.8"/>
<rect x="259" y="1021" width="3.3" height="50.8" rx="0" fill="none" stroke="#777" stroke-width="0.8"/>
<rect x="493.3" y="954" width="4.0" height="41.3" rx="0" fill="none" stroke="#777" stroke-width="0.8"/>
<path d="M497,954 A40,40 0 0 1 535,995" fill="none" stroke="#555" stroke-width="0.9" stroke-dasharray="0,4,8,11,8,100"/>
<polyline points="493,995 493,1003 535,1003 535,995" fill="none" stroke="#777" stroke-width="1"/>
<polyline points="549.3,1003 549.3,1072.7 484,1072.7" fill="none" stroke="#777" stroke-width="1"/>
<polyline points="484,1059.3 549.3,1059.3" fill="none" stroke="#777" stroke-width="1"/>
<polyline points="516.5,1080 516.5,1054" fill="none" stroke="#333" stroke-width="1"/>
<polygon points="512,1054.5 516.5,1048 521,1054.5" fill="#000"/>
<circle cx="516.5" cy="1073" r="3" fill="none" stroke="#555" stroke-width="0.9"/>
<polyline points="706,718.2 686.8,718.2 676.3,727.8 676.3,817.9 686.8,828.4 706,828.4" fill="none" stroke="#888" stroke-width="0.9"/>
<polyline points="700,748 722,760 722,788 700,800" fill="none" stroke="#777" stroke-width="1"/>
<polyline points="700,751 719.5,762 719.5,786 700,797" fill="none" stroke="#999" stroke-width="1"/>
<polyline points="700,748 700,800" fill="none" stroke="#aaa" stroke-width="1"/>
<polyline points="770.8,750 770.8,744.2 811.1,744.2" fill="none" stroke="#666" stroke-width="0.7"/>
<polyline points="771.8,747.2 809.4,747.2" fill="none" stroke="#888" stroke-width="0.7"/>
<polyline points="809.4,744.2 809.4,785.3 806,785.3" fill="none" stroke="#666" stroke-width="0.8"/>
<polyline points="787.4,797.3 787.4,811.1 811.8,811.1" fill="none" stroke="#666" stroke-width="0.8"/>
<polyline points="787.4,805.1 811.8,805.1" fill="none" stroke="#777" stroke-width="0.7"/>
<polyline points="751.3,762.3 743.5,762.3 743.5,811.1 737.8,811.1" fill="none" stroke="#666" stroke-width="0.8"/>
<polyline points="745.6,762.6 745.6,805.1 737.8,805.1" fill="none" stroke="#888" stroke-width="0.7"/>
<path d="M762.6,766.5 L769.7,770.8 M775,762.3 L778.9,769 M787,777.5 L794.8,781.7 M778.2,779.3 L782.8,786.7 M786,797.3 L787.2,804" fill="none" stroke="#555" stroke-width="0.9"/>
<polyline points="850,522 850,510.6 891.6,510.6 891.6,522" fill="none" stroke="#888" stroke-width="1"/>
<rect x="850" y="522" width="2.6" height="40.3" rx="0" fill="none" stroke="#777" stroke-width="0.8"/>
<path d="M852.6,562.3 A39,39 0 0 0 891.6,522" fill="none" stroke="#555" stroke-width="0.9" stroke-dasharray="0,5,7,10,7,9,7,100"/>
<defs><pattern id="hatch" patternUnits="userSpaceOnUse" width="6" height="6" patternTransform="rotate(45)"><line x1="0" y1="0" x2="0" y2="6" stroke="#666" stroke-width="1"/></pattern></defs>
<rect x="1072.5" y="548.75" width="8.75" height="173.75" rx="0" fill="url(#hatch)" stroke="#666" stroke-width="0.9"/>
<polyline points="1024.25,602.5 1072.5,602.5" fill="none" stroke="#777" stroke-width="1"/>
<polyline points="1024.25,615 1072.5,615" fill="none" stroke="#777" stroke-width="1"/>
<polyline points="1024.25,628.75 1072.5,628.75" fill="none" stroke="#777" stroke-width="1"/>
<polyline points="1024.25,641.25 1072.5,641.25" fill="none" stroke="#777" stroke-width="1"/>
<polyline points="1024.25,654.25 1072.5,654.25" fill="none" stroke="#777" stroke-width="1"/>
<polyline points="1024.25,667 1072.5,667" fill="none" stroke="#777" stroke-width="1"/>
<polyline points="1024.25,679.5 1072.5,679.5" fill="none" stroke="#777" stroke-width="1"/>
<polyline points="1024.25,692 1072.5,692" fill="none" stroke="#777" stroke-width="1"/>
<polyline points="1024.25,704.5 1072.5,704.5" fill="none" stroke="#777" stroke-width="1"/>
<polyline points="1024.25,717 1072.5,717" fill="none" stroke="#777" stroke-width="1"/>
<polyline points="1024.25,566 1072.5,592.5" fill="none" stroke="#555" stroke-width="1"/>
<polyline points="1058.75,548.75 1072.5,573.75" fill="none" stroke="#555" stroke-width="1"/>
<polyline points="1048,714 1048,596" fill="none" stroke="#333" stroke-width="1"/>
<polygon points="1042.5,596.5 1048,589.5 1053.75,596.5" fill="#000"/>
<circle cx="1048" cy="717" r="3" fill="none" stroke="#555" stroke-width="0.9"/>
<polyline points="1048,720 1048,725" fill="none" stroke="#555" stroke-width="1"/>
</svg>
</body></html>
